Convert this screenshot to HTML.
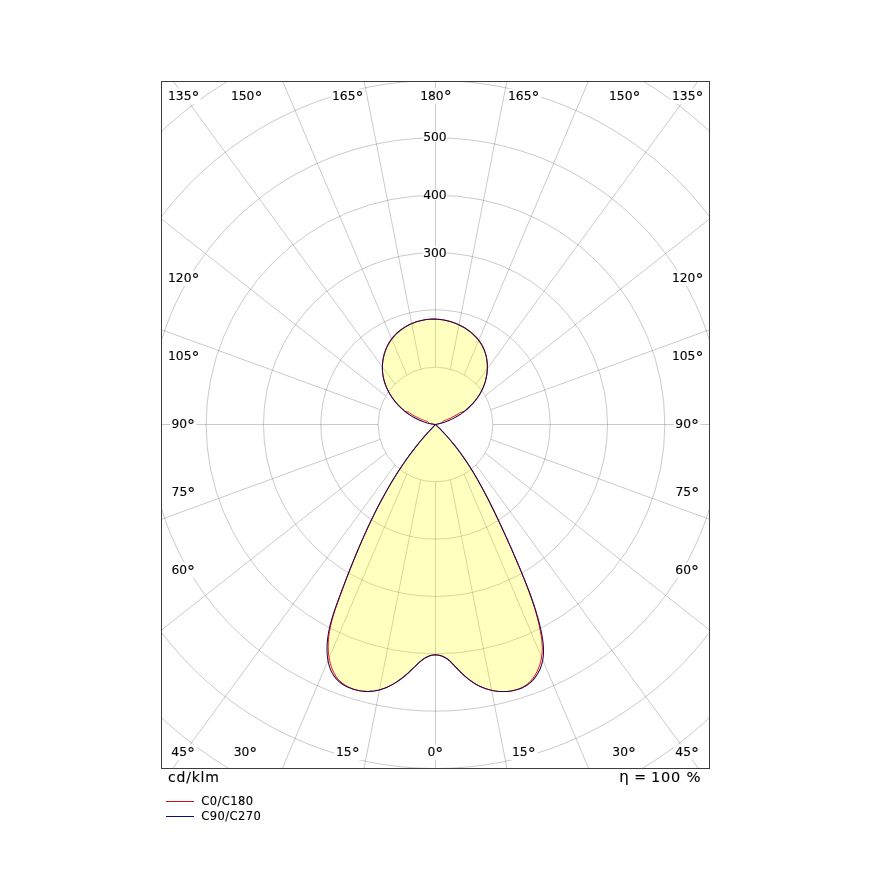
<!DOCTYPE html>
<html><head><meta charset="utf-8"><title>Polar diagram</title>
<style>html,body{margin:0;padding:0;background:#fff;overflow:hidden}svg{display:block}</style>
</head><body>
<svg width="870" height="896" viewBox="0 0 870 896" style="will-change:transform">
<defs><clipPath id="fr"><rect x="162" y="82" width="547" height="686"/></clipPath></defs>
<rect width="870" height="896" fill="#fff"/>
<g clip-path="url(#fr)">
<g fill="none" stroke="#6e6e6e" stroke-opacity="0.37" stroke-width="1"><circle cx="435.5" cy="424.5" r="57.33"/><circle cx="435.5" cy="424.5" r="114.67"/><circle cx="435.5" cy="424.5" r="172"/><circle cx="435.5" cy="424.5" r="229.33"/><circle cx="435.5" cy="424.5" r="286.67"/><circle cx="435.5" cy="424.5" r="344"/><circle cx="435.5" cy="424.5" r="401.33"/><line x1="435.5" y1="481.83" x2="435.5" y2="1381.83"/><line x1="450.34" y1="479.88" x2="623.7" y2="1363.03"/><line x1="464.17" y1="474.15" x2="814.77" y2="1303.06"/><line x1="476.04" y1="465.04" x2="1007.92" y2="1191.06"/><line x1="485.15" y1="453.17" x2="1192.02" y2="1010.24"/><line x1="490.88" y1="439.34" x2="1336.12" y2="748.49"/><line x1="492.83" y1="424.5" x2="1392.83" y2="424.5"/><line x1="490.88" y1="409.66" x2="1336.12" y2="100.51"/><line x1="485.15" y1="395.83" x2="1192.02" y2="-161.24"/><line x1="476.04" y1="383.96" x2="1007.92" y2="-342.06"/><line x1="464.17" y1="374.85" x2="814.77" y2="-454.06"/><line x1="450.34" y1="369.12" x2="623.7" y2="-514.03"/><line x1="435.5" y1="367.17" x2="435.5" y2="-532.83"/><line x1="420.66" y1="369.12" x2="247.3" y2="-514.03"/><line x1="406.83" y1="374.85" x2="56.23" y2="-454.06"/><line x1="394.96" y1="383.96" x2="-136.92" y2="-342.06"/><line x1="385.85" y1="395.83" x2="-321.02" y2="-161.24"/><line x1="380.12" y1="409.66" x2="-465.12" y2="100.51"/><line x1="378.17" y1="424.5" x2="-521.83" y2="424.5"/><line x1="380.12" y1="439.34" x2="-465.12" y2="748.49"/><line x1="385.85" y1="453.17" x2="-321.02" y2="1010.24"/><line x1="394.96" y1="465.04" x2="-136.92" y2="1191.06"/><line x1="406.83" y1="474.15" x2="56.23" y2="1303.06"/><line x1="420.66" y1="479.88" x2="247.3" y2="1363.03"/></g>
<path d="M435.5 424.5L434.1 425.93L432.72 427.37L431.35 428.82L429.98 430.28L428.64 431.74L427.3 433.22L425.97 434.71L424.66 436.21L423.36 437.71L422.06 439.22L420.78 440.75L419.52 442.28L418.26 443.82L417.01 445.37L415.77 446.92L414.55 448.49L413.33 450.06L412.13 451.64L410.93 453.23L409.75 454.83L408.57 456.44L407.41 458.05L406.26 459.67L405.11 461.29L403.98 462.93L402.85 464.57L401.74 466.21L400.63 467.87L399.54 469.53L398.45 471.2L397.37 472.87L396.3 474.55L395.24 476.24L394.19 477.93L393.15 479.63L392.12 481.33L391.09 483.04L390.07 484.76L389.07 486.48L388.07 488.2L387.07 489.94L386.09 491.67L385.11 493.41L384.15 495.16L383.19 496.91L382.23 498.67L381.29 500.42L380.35 502.19L379.42 503.96L378.5 505.73L377.58 507.51L376.67 509.29L375.77 511.07L374.87 512.86L373.98 514.65L373.1 516.44L372.23 518.24L371.36 520.04L370.5 521.85L369.64 523.65L368.79 525.46L367.94 527.28L367.11 529.09L366.27 530.91L365.45 532.73L364.63 534.55L363.81 536.37L363 538.2L362.2 540.03L361.4 541.86L360.61 543.69L359.82 545.53L359.03 547.36L358.26 549.2L357.48 551.04L356.71 552.88L355.95 554.73L355.19 556.57L354.44 558.42L353.69 560.27L352.94 562.12L352.2 563.97L351.46 565.82L350.73 567.67L350 569.53L349.28 571.38L348.56 573.24L347.84 575.09L347.13 576.95L346.42 578.81L345.71 580.67L345.01 582.53L344.31 584.39L343.61 586.26L342.92 588.12L342.23 589.98L341.54 591.84L340.86 593.71L340.18 595.57L339.5 597.43L338.82 599.3L338.15 601.16L337.48 603.03L336.82 604.89L336.17 606.76L335.53 608.64L334.9 610.51L334.29 612.4L333.7 614.29L333.12 616.18L332.57 618.08L332.04 619.99L331.53 621.91L331.05 623.84L330.61 625.77L330.19 627.72L329.81 629.68L329.46 631.65L329.15 633.63L328.88 635.63L328.65 637.64L328.46 639.66L328.32 641.69L328.23 643.72L328.19 645.75L328.2 647.78L328.26 649.79L328.38 651.79L328.56 653.78L328.79 655.74L329.08 657.67L329.42 659.58L329.83 661.45L330.29 663.28L330.81 665.08L331.39 666.84L332.03 668.56L332.73 670.24L333.49 671.88L334.32 673.48L335.23 675.03L336.21 676.55L337.28 678.02L338.45 679.44L339.72 680.81L341.11 682.12L342.6 683.37L344.2 684.54L345.9 685.64L347.68 686.64L349.53 687.55L351.44 688.37L353.4 689.09L355.4 689.71L357.42 690.24L359.46 690.67L361.5 691L363.53 691.24L365.54 691.38L367.54 691.43L369.51 691.38L371.47 691.26L373.4 691.05L375.32 690.75L377.21 690.38L379.09 689.94L380.95 689.42L382.79 688.83L384.61 688.17L386.41 687.44L388.19 686.65L389.95 685.8L391.7 684.89L393.42 683.92L395.13 682.9L396.82 681.82L398.48 680.7L400.13 679.52L401.77 678.3L403.38 677.04L404.97 675.74L406.55 674.4L408.11 673.03L409.65 671.62L411.17 670.18L412.67 668.72L414.17 667.25L415.66 665.8L417.15 664.36L418.65 662.98L420.16 661.64L421.69 660.39L423.24 659.22L424.83 658.16L426.44 657.22L428.1 656.41L429.8 655.76L431.55 655.28L433.35 654.98L435.22 654.89L437.15 655L439.11 655.32L441.08 655.84L443.01 656.54L444.87 657.42L446.63 658.47L448.26 659.66L449.78 660.98L451.21 662.39L452.61 663.84L454 665.31L455.39 666.77L456.79 668.23L458.2 669.68L459.62 671.12L461.06 672.53L462.51 673.93L463.99 675.29L465.48 676.63L467 677.92L468.55 679.18L470.12 680.39L471.73 681.55L473.37 682.66L475.05 683.71L476.76 684.7L478.51 685.62L480.3 686.49L482.11 687.29L483.95 688.02L485.82 688.69L487.71 689.29L489.63 689.83L491.56 690.29L493.51 690.69L495.48 691.01L497.45 691.26L499.44 691.44L501.44 691.54L503.44 691.56L505.44 691.51L507.45 691.38L509.45 691.17L511.44 690.87L513.42 690.48L515.38 690.01L517.3 689.43L519.19 688.76L521.02 687.98L522.8 687.1L524.51 686.12L526.14 685.03L527.69 683.84L529.15 682.55L530.52 681.17L531.8 679.7L533 678.17L534.12 676.58L535.16 674.94L536.13 673.26L537.03 671.54L537.86 669.8L538.61 668.04L539.3 666.26L539.91 664.46L540.44 662.65L540.91 660.83L541.3 658.98L541.62 657.11L541.88 655.23L542.06 653.33L542.18 651.41L542.24 649.47L542.24 647.53L542.18 645.57L542.06 643.6L541.9 641.63L541.69 639.65L541.44 637.66L541.15 635.68L540.82 633.7L540.47 631.72L540.09 629.74L539.69 627.77L539.27 625.81L538.83 623.85L538.37 621.9L537.89 619.96L537.4 618.02L536.89 616.09L536.36 614.17L535.81 612.25L535.25 610.34L534.68 608.43L534.09 606.53L533.48 604.63L532.86 602.74L532.24 600.86L531.59 598.97L530.94 597.1L530.28 595.22L529.6 593.35L528.92 591.49L528.22 589.62L527.52 587.76L526.81 585.91L526.09 584.05L525.37 582.2L524.64 580.35L523.9 578.51L523.16 576.66L522.41 574.82L521.66 572.98L520.91 571.13L520.15 569.3L519.38 567.46L518.62 565.62L517.85 563.79L517.07 561.95L516.29 560.12L515.51 558.29L514.73 556.46L513.94 554.63L513.15 552.8L512.35 550.97L511.55 549.15L510.75 547.32L509.94 545.5L509.13 543.67L508.32 541.85L507.5 540.03L506.68 538.21L505.86 536.4L505.03 534.58L504.2 532.76L503.36 530.95L502.53 529.14L501.69 527.32L500.85 525.51L500 523.7L499.15 521.89L498.3 520.08L497.44 518.27L496.58 516.47L495.72 514.66L494.85 512.86L493.98 511.06L493.11 509.26L492.23 507.46L491.35 505.66L490.46 503.87L489.56 502.08L488.66 500.3L487.76 498.51L486.84 496.74L485.93 494.96L485 493.19L484.07 491.42L483.13 489.66L482.18 487.9L481.22 486.15L480.26 484.4L479.29 482.66L478.31 480.92L477.32 479.19L476.32 477.47L475.31 475.75L474.3 474.04L473.27 472.33L472.23 470.63L471.18 468.94L470.13 467.26L469.06 465.58L467.97 463.92L466.88 462.26L465.78 460.6L464.66 458.96L463.53 457.33L462.39 455.7L461.23 454.09L460.07 452.48L458.88 450.88L457.69 449.29L456.48 447.72L455.26 446.15L454.02 444.59L452.77 443.05L451.5 441.51L450.21 439.99L448.92 438.48L447.6 436.98L446.27 435.49L444.92 434.01L443.56 432.55L442.18 431.1L440.78 429.66L439.36 428.24L437.93 426.82L436.48 425.42ZM435.5 424.5L436.53 424.31L437.57 424.09L438.6 423.86L439.63 423.6L440.66 423.33L441.64 422.87L442.5 422.05L443.35 421.22L444.27 420.64L445.26 420.29L446.26 419.91L447.24 419.52L448.23 419.11L449.21 418.69L450.18 418.25L451.15 417.79L452.12 417.31L453.08 416.82L454.03 416.32L454.97 415.79L455.91 415.25L456.84 414.7L457.77 414.13L458.68 413.55L459.59 412.95L460.5 412.36L461.71 412.17L462.92 411.95L464.03 411.59L464.91 410.9L465.78 410.2L466.63 409.48L467.47 408.75L468.3 408.01L469.12 407.25L469.92 406.48L470.71 405.7L471.49 404.91L472.25 404.1L473 403.28L473.73 402.44L474.45 401.6L475.15 400.74L475.84 399.87L476.51 398.99L477.16 398.1L477.8 397.19L478.42 396.28L479.02 395.35L479.6 394.41L480.16 393.47L480.7 392.51L481.23 391.54L481.73 390.56L482.22 389.57L482.68 388.58L483.13 387.57L483.55 386.55L483.95 385.53L484.33 384.5L484.68 383.46L485.02 382.41L485.33 381.35L485.62 380.29L485.89 379.23L486.14 378.16L486.37 377.09L486.57 376.01L486.75 374.93L486.91 373.85L487.04 372.77L487.15 371.68L487.25 370.6L487.31 369.51L487.36 368.43L487.38 367.34L487.38 366.26L487.36 365.18L487.31 364.1L487.24 363.03L487.15 361.96L487.03 360.89L486.89 359.83L486.73 358.78L486.55 357.73L486.34 356.68L486.1 355.65L485.85 354.62L485.57 353.6L485.26 352.58L484.93 351.58L484.58 350.58L484.2 349.6L483.8 348.62L483.37 347.66L482.91 346.71L482.44 345.77L481.93 344.84L481.41 343.92L480.86 343.02L480.28 342.13L479.68 341.25L479.06 340.39L478.42 339.54L477.75 338.71L477.06 337.89L476.35 337.09L475.62 336.31L474.87 335.54L474.1 334.79L473.31 334.05L472.5 333.34L471.68 332.63L470.84 331.95L469.98 331.29L469.1 330.64L468.21 330.01L467.31 329.39L466.39 328.8L465.46 328.22L464.52 327.65L463.57 327.11L462.6 326.58L461.63 326.06L460.64 325.57L459.65 325.09L458.64 324.62L457.63 324.18L456.61 323.75L455.58 323.34L454.54 322.94L453.49 322.57L452.44 322.21L451.38 321.87L450.31 321.55L449.24 321.24L448.17 320.96L447.08 320.69L446 320.45L444.9 320.22L443.81 320.02L442.71 319.83L441.61 319.66L440.5 319.52L439.4 319.39L438.29 319.29L437.18 319.21L436.06 319.15L434.95 319.11L433.84 319.09L432.73 319.09L431.62 319.12L430.51 319.17L429.4 319.24L428.29 319.33L427.19 319.45L426.09 319.59L424.99 319.75L423.9 319.93L422.81 320.14L421.72 320.37L420.64 320.62L419.57 320.88L418.5 321.17L417.44 321.48L416.38 321.81L415.33 322.16L414.29 322.54L413.26 322.92L412.23 323.33L411.22 323.76L410.21 324.21L409.21 324.68L408.22 325.16L407.25 325.66L406.28 326.19L405.32 326.73L404.38 327.29L403.45 327.87L402.53 328.47L401.63 329.09L400.74 329.72L399.87 330.38L399.01 331.06L398.17 331.75L397.35 332.46L396.54 333.2L395.76 333.95L394.99 334.72L394.25 335.51L393.52 336.32L392.82 337.14L392.14 337.99L391.48 338.85L390.85 339.72L390.24 340.62L389.65 341.52L389.09 342.45L388.55 343.38L388.03 344.33L387.54 345.29L387.07 346.27L386.62 347.25L386.19 348.24L385.79 349.25L385.41 350.26L385.06 351.28L384.72 352.31L384.41 353.34L384.12 354.38L383.85 355.43L383.6 356.48L383.38 357.53L383.17 358.6L382.99 359.66L382.84 360.73L382.7 361.8L382.59 362.87L382.5 363.95L382.43 365.03L382.39 366.1L382.37 367.18L382.37 368.26L382.4 369.34L382.45 370.41L382.52 371.49L382.62 372.56L382.74 373.63L382.88 374.69L383.05 375.75L383.25 376.81L383.46 377.86L383.7 378.91L383.96 379.95L384.24 380.99L384.55 382.03L384.88 383.05L385.23 384.08L385.6 385.09L385.99 386.1L386.4 387.1L386.83 388.1L387.28 389.09L387.75 390.07L388.24 391.04L388.75 392.01L389.27 392.96L389.82 393.91L390.38 394.85L390.97 395.78L391.56 396.7L392.18 397.61L392.81 398.51L393.46 399.4L394.13 400.28L394.81 401.15L395.5 402.01L396.22 402.86L396.94 403.69L397.68 404.52L398.44 405.33L399.21 406.13L399.99 406.91L400.79 407.69L401.6 408.44L402.42 409.19L403.26 409.92L404.1 410.64L404.96 411.34L406.09 411.71L407.28 411.95L408.48 412.17L409.37 412.78L410.26 413.39L411.17 413.99L412.08 414.57L413 415.14L413.93 415.69L414.86 416.22L415.81 416.73L416.76 417.23L417.72 417.71L418.69 418.17L419.67 418.62L420.65 419.04L421.63 419.45L422.63 419.84L423.63 420.2L424.63 420.55L425.64 420.88L426.65 421.19L427.59 421.78L428.48 422.58L429.4 423.36L430.43 423.69L431.49 423.9L432.56 424.09L433.63 424.26L434.7 424.41Z" fill="#ffff00" fill-opacity="0.25" stroke="none"/>
<path d="M435.5 424.5L434.1 425.93L432.72 427.37L431.35 428.82L429.98 430.28L428.64 431.74L427.3 433.22L425.97 434.71L424.66 436.21L423.36 437.71L422.06 439.22L420.78 440.75L419.52 442.28L418.26 443.82L417.01 445.37L415.77 446.92L414.55 448.49L413.33 450.06L412.13 451.64L410.93 453.23L409.75 454.83L408.57 456.44L407.41 458.05L406.26 459.67L405.11 461.29L403.98 462.93L402.85 464.57L401.74 466.21L400.63 467.87L399.54 469.53L398.45 471.2L397.37 472.87L396.3 474.55L395.24 476.24L394.19 477.93L393.15 479.63L392.12 481.33L391.09 483.04L390.07 484.76L389.07 486.48L388.07 488.2L387.07 489.94L386.09 491.67L385.11 493.41L384.15 495.16L383.19 496.91L382.23 498.67L381.29 500.42L380.35 502.19L379.42 503.96L378.5 505.73L377.58 507.51L376.67 509.29L375.77 511.07L374.87 512.86L373.98 514.65L373.1 516.44L372.23 518.24L371.36 520.04L370.5 521.85L369.64 523.65L368.79 525.46L367.94 527.28L367.11 529.09L366.27 530.91L365.45 532.73L364.63 534.55L363.81 536.37L363 538.2L362.2 540.03L361.4 541.86L360.61 543.69L359.82 545.53L359.03 547.36L358.26 549.2L357.48 551.04L356.71 552.88L355.95 554.73L355.19 556.57L354.44 558.42L353.69 560.27L352.94 562.12L352.2 563.97L351.46 565.82L350.73 567.67L350 569.53L349.28 571.38L348.56 573.24L347.84 575.09L347.13 576.95L346.42 578.81L345.71 580.67L345.01 582.53L344.31 584.39L343.61 586.26L342.92 588.12L342.23 589.98L341.54 591.84L340.86 593.71L340.18 595.57L339.5 597.43L338.82 599.3L338.15 601.16L337.48 603.03L336.82 604.89L336.17 606.76L335.53 608.64L334.9 610.51L334.29 612.4L333.7 614.29L333.12 616.18L332.57 618.08L332.04 619.99L331.53 621.91L331.05 623.84L330.61 625.77L330.19 627.72L329.81 629.68L329.46 631.65L329.15 633.63L328.88 635.63L328.65 637.64L328.46 639.66L328.32 641.69L328.23 643.72L328.19 645.75L328.2 647.78L328.26 649.79L328.38 651.79L328.56 653.78L328.79 655.74L329.08 657.67L329.42 659.58L329.83 661.45L330.29 663.28L330.81 665.08L331.39 666.84L332.03 668.56L332.73 670.24L333.49 671.88L334.32 673.48L335.23 675.03L336.21 676.55L337.28 678.02L338.45 679.44L339.72 680.81L341.11 682.12L342.6 683.37L344.2 684.54L345.9 685.64L347.68 686.64L349.53 687.55L351.44 688.37L353.4 689.09L355.4 689.71L357.42 690.24L359.46 690.67L361.5 691L363.53 691.24L365.54 691.38L367.54 691.43L369.51 691.38L371.47 691.26L373.4 691.05L375.32 690.75L377.21 690.38L379.09 689.94L380.95 689.42L382.79 688.83L384.61 688.17L386.41 687.44L388.19 686.65L389.95 685.8L391.7 684.89L393.42 683.92L395.13 682.9L396.82 681.82L398.48 680.7L400.13 679.52L401.77 678.3L403.38 677.04L404.97 675.74L406.55 674.4L408.11 673.03L409.65 671.62L411.17 670.18L412.67 668.72L414.17 667.25L415.66 665.8L417.15 664.36L418.65 662.98L420.16 661.64L421.69 660.39L423.24 659.22L424.83 658.16L426.44 657.22L428.1 656.41L429.8 655.76L431.55 655.28L433.35 654.98L435.22 654.89L437.15 655L439.11 655.32L441.08 655.84L443.01 656.54L444.87 657.42L446.63 658.47L448.26 659.66L449.78 660.98L451.21 662.39L452.61 663.84L454 665.31L455.39 666.77L456.79 668.23L458.2 669.68L459.62 671.12L461.06 672.53L462.51 673.93L463.99 675.29L465.48 676.63L467 677.92L468.55 679.18L470.12 680.39L471.73 681.55L473.37 682.66L475.05 683.71L476.76 684.7L478.51 685.62L480.3 686.49L482.11 687.29L483.95 688.02L485.82 688.69L487.71 689.29L489.63 689.83L491.56 690.29L493.51 690.69L495.48 691.01L497.45 691.26L499.44 691.44L501.44 691.54L503.44 691.56L505.44 691.51L507.45 691.38L509.45 691.17L511.44 690.87L513.42 690.48L515.38 690.01L517.3 689.43L519.19 688.76L521.02 687.98L522.8 687.1L524.51 686.12L526.14 685.03L527.69 683.84L529.15 682.55L530.52 681.17L531.8 679.7L533 678.17L534.12 676.58L535.16 674.94L536.13 673.26L537.03 671.54L537.86 669.8L538.61 668.04L539.3 666.26L539.91 664.46L540.44 662.65L540.91 660.83L541.3 658.98L541.62 657.11L541.88 655.23L542.06 653.33L542.18 651.41L542.24 649.47L542.24 647.53L542.18 645.57L542.06 643.6L541.9 641.63L541.69 639.65L541.44 637.66L541.15 635.68L540.82 633.7L540.47 631.72L540.09 629.74L539.69 627.77L539.27 625.81L538.83 623.85L538.37 621.9L537.89 619.96L537.4 618.02L536.89 616.09L536.36 614.17L535.81 612.25L535.25 610.34L534.68 608.43L534.09 606.53L533.48 604.63L532.86 602.74L532.24 600.86L531.59 598.97L530.94 597.1L530.28 595.22L529.6 593.35L528.92 591.49L528.22 589.62L527.52 587.76L526.81 585.91L526.09 584.05L525.37 582.2L524.64 580.35L523.9 578.51L523.16 576.66L522.41 574.82L521.66 572.98L520.91 571.13L520.15 569.3L519.38 567.46L518.62 565.62L517.85 563.79L517.07 561.95L516.29 560.12L515.51 558.29L514.73 556.46L513.94 554.63L513.15 552.8L512.35 550.97L511.55 549.15L510.75 547.32L509.94 545.5L509.13 543.67L508.32 541.85L507.5 540.03L506.68 538.21L505.86 536.4L505.03 534.58L504.2 532.76L503.36 530.95L502.53 529.14L501.69 527.32L500.85 525.51L500 523.7L499.15 521.89L498.3 520.08L497.44 518.27L496.58 516.47L495.72 514.66L494.85 512.86L493.98 511.06L493.11 509.26L492.23 507.46L491.35 505.66L490.46 503.87L489.56 502.08L488.66 500.3L487.76 498.51L486.84 496.74L485.93 494.96L485 493.19L484.07 491.42L483.13 489.66L482.18 487.9L481.22 486.15L480.26 484.4L479.29 482.66L478.31 480.92L477.32 479.19L476.32 477.47L475.31 475.75L474.3 474.04L473.27 472.33L472.23 470.63L471.18 468.94L470.13 467.26L469.06 465.58L467.97 463.92L466.88 462.26L465.78 460.6L464.66 458.96L463.53 457.33L462.39 455.7L461.23 454.09L460.07 452.48L458.88 450.88L457.69 449.29L456.48 447.72L455.26 446.15L454.02 444.59L452.77 443.05L451.5 441.51L450.21 439.99L448.92 438.48L447.6 436.98L446.27 435.49L444.92 434.01L443.56 432.55L442.18 431.1L440.78 429.66L439.36 428.24L437.93 426.82L436.48 425.42ZM435.5 424.5L436.53 424.31L437.57 424.09L438.6 423.86L439.63 423.6L440.66 423.33L441.64 422.87L442.5 422.05L443.35 421.22L444.27 420.64L445.26 420.29L446.26 419.91L447.24 419.52L448.23 419.11L449.21 418.69L450.18 418.25L451.15 417.79L452.12 417.31L453.08 416.82L454.03 416.32L454.97 415.79L455.91 415.25L456.84 414.7L457.77 414.13L458.68 413.55L459.59 412.95L460.5 412.36L461.71 412.17L462.92 411.95L464.03 411.59L464.91 410.9L465.78 410.2L466.63 409.48L467.47 408.75L468.3 408.01L469.12 407.25L469.92 406.48L470.71 405.7L471.49 404.91L472.25 404.1L473 403.28L473.73 402.44L474.45 401.6L475.15 400.74L475.84 399.87L476.51 398.99L477.16 398.1L477.8 397.19L478.42 396.28L479.02 395.35L479.6 394.41L480.16 393.47L480.7 392.51L481.23 391.54L481.73 390.56L482.22 389.57L482.68 388.58L483.13 387.57L483.55 386.55L483.95 385.53L484.33 384.5L484.68 383.46L485.02 382.41L485.33 381.35L485.62 380.29L485.89 379.23L486.14 378.16L486.37 377.09L486.57 376.01L486.75 374.93L486.91 373.85L487.04 372.77L487.15 371.68L487.25 370.6L487.31 369.51L487.36 368.43L487.38 367.34L487.38 366.26L487.36 365.18L487.31 364.1L487.24 363.03L487.15 361.96L487.03 360.89L486.89 359.83L486.73 358.78L486.55 357.73L486.34 356.68L486.1 355.65L485.85 354.62L485.57 353.6L485.26 352.58L484.93 351.58L484.58 350.58L484.2 349.6L483.8 348.62L483.37 347.66L482.91 346.71L482.44 345.77L481.93 344.84L481.41 343.92L480.86 343.02L480.28 342.13L479.68 341.25L479.06 340.39L478.42 339.54L477.75 338.71L477.06 337.89L476.35 337.09L475.62 336.31L474.87 335.54L474.1 334.79L473.31 334.05L472.5 333.34L471.68 332.63L470.84 331.95L469.98 331.29L469.1 330.64L468.21 330.01L467.31 329.39L466.39 328.8L465.46 328.22L464.52 327.65L463.57 327.11L462.6 326.58L461.63 326.06L460.64 325.57L459.65 325.09L458.64 324.62L457.63 324.18L456.61 323.75L455.58 323.34L454.54 322.94L453.49 322.57L452.44 322.21L451.38 321.87L450.31 321.55L449.24 321.24L448.17 320.96L447.08 320.69L446 320.45L444.9 320.22L443.81 320.02L442.71 319.83L441.61 319.66L440.5 319.52L439.4 319.39L438.29 319.29L437.18 319.21L436.06 319.15L434.95 319.11L433.84 319.09L432.73 319.09L431.62 319.12L430.51 319.17L429.4 319.24L428.29 319.33L427.19 319.45L426.09 319.59L424.99 319.75L423.9 319.93L422.81 320.14L421.72 320.37L420.64 320.62L419.57 320.88L418.5 321.17L417.44 321.48L416.38 321.81L415.33 322.16L414.29 322.54L413.26 322.92L412.23 323.33L411.22 323.76L410.21 324.21L409.21 324.68L408.22 325.16L407.25 325.66L406.28 326.19L405.32 326.73L404.38 327.29L403.45 327.87L402.53 328.47L401.63 329.09L400.74 329.72L399.87 330.38L399.01 331.06L398.17 331.75L397.35 332.46L396.54 333.2L395.76 333.95L394.99 334.72L394.25 335.51L393.52 336.32L392.82 337.14L392.14 337.99L391.48 338.85L390.85 339.72L390.24 340.62L389.65 341.52L389.09 342.45L388.55 343.38L388.03 344.33L387.54 345.29L387.07 346.27L386.62 347.25L386.19 348.24L385.79 349.25L385.41 350.26L385.06 351.28L384.72 352.31L384.41 353.34L384.12 354.38L383.85 355.43L383.6 356.48L383.38 357.53L383.17 358.6L382.99 359.66L382.84 360.73L382.7 361.8L382.59 362.87L382.5 363.95L382.43 365.03L382.39 366.1L382.37 367.18L382.37 368.26L382.4 369.34L382.45 370.41L382.52 371.49L382.62 372.56L382.74 373.63L382.88 374.69L383.05 375.75L383.25 376.81L383.46 377.86L383.7 378.91L383.96 379.95L384.24 380.99L384.55 382.03L384.88 383.05L385.23 384.08L385.6 385.09L385.99 386.1L386.4 387.1L386.83 388.1L387.28 389.09L387.75 390.07L388.24 391.04L388.75 392.01L389.27 392.96L389.82 393.91L390.38 394.85L390.97 395.78L391.56 396.7L392.18 397.61L392.81 398.51L393.46 399.4L394.13 400.28L394.81 401.15L395.5 402.01L396.22 402.86L396.94 403.69L397.68 404.52L398.44 405.33L399.21 406.13L399.99 406.91L400.79 407.69L401.6 408.44L402.42 409.19L403.26 409.92L404.1 410.64L404.96 411.34L406.09 411.71L407.28 411.95L408.48 412.17L409.37 412.78L410.26 413.39L411.17 413.99L412.08 414.57L413 415.14L413.93 415.69L414.86 416.22L415.81 416.73L416.76 417.23L417.72 417.71L418.69 418.17L419.67 418.62L420.65 419.04L421.63 419.45L422.63 419.84L423.63 420.2L424.63 420.55L425.64 420.88L426.65 421.19L427.59 421.78L428.48 422.58L429.4 423.36L430.43 423.69L431.49 423.9L432.56 424.09L433.63 424.26L434.7 424.41Z" fill="none" stroke="#ff0000" stroke-width="1" stroke-linejoin="round"/>
<path d="M435.5 424.5L434.1 425.93L432.72 427.37L431.35 428.82L429.98 430.28L428.64 431.74L427.3 433.22L425.97 434.71L424.66 436.21L423.36 437.71L422.06 439.22L420.78 440.75L419.52 442.28L418.26 443.82L417.01 445.37L415.77 446.92L414.55 448.49L413.33 450.06L412.13 451.64L410.93 453.23L409.75 454.83L408.57 456.44L407.41 458.05L406.26 459.67L405.11 461.29L403.98 462.93L402.85 464.57L401.74 466.21L400.63 467.87L399.54 469.53L398.45 471.2L397.37 472.87L396.3 474.55L395.24 476.24L394.19 477.93L393.15 479.63L392.12 481.33L391.09 483.04L390.07 484.76L389.07 486.48L388.07 488.2L387.07 489.94L386.09 491.67L385.11 493.41L384.15 495.16L383.19 496.91L382.23 498.66L381.29 500.42L380.35 502.19L379.42 503.96L378.5 505.73L377.58 507.51L376.67 509.29L375.77 511.07L374.87 512.86L373.98 514.65L373.1 516.44L372.23 518.24L371.36 520.04L370.49 521.85L369.64 523.65L368.79 525.46L367.94 527.27L367.1 529.09L366.27 530.91L365.44 532.73L364.62 534.55L363.8 536.37L362.99 538.2L362.19 540.03L361.39 541.86L360.59 543.69L359.8 545.52L359.01 547.36L358.23 549.19L357.46 551.03L356.69 552.87L355.92 554.71L355.16 556.56L354.4 558.4L353.64 560.25L352.89 562.1L352.15 563.95L351.4 565.79L350.67 567.65L349.93 569.5L349.2 571.35L348.47 573.2L347.75 575.06L347.02 576.91L346.31 578.77L345.59 580.63L344.88 582.48L344.17 584.34L343.46 586.2L342.76 588.06L342.06 589.92L341.36 591.77L340.66 593.63L339.97 595.49L339.27 597.35L338.58 599.21L337.89 601.07L337.21 602.93L336.53 604.79L335.87 606.66L335.21 608.53L334.56 610.4L333.93 612.28L333.32 614.16L332.72 616.05L332.14 617.95L331.58 619.86L331.04 621.78L330.53 623.7L330.05 625.64L329.59 627.59L329.17 629.55L328.77 631.52L328.41 633.51L328.09 635.51L327.8 637.53L327.56 639.56L327.35 641.6L327.19 643.65L327.08 645.71L327.02 647.76L327.01 649.81L327.06 651.84L327.17 653.87L327.33 655.88L327.57 657.87L327.87 659.84L328.23 661.78L328.68 663.69L329.19 665.57L329.78 667.4L330.46 669.2L331.22 670.94L332.06 672.64L332.99 674.28L334.01 675.87L335.13 677.39L336.34 678.85L337.65 680.24L339.07 681.56L340.59 682.8L342.2 683.96L343.9 685.04L345.68 686.05L347.52 686.97L349.42 687.81L351.37 688.56L353.36 689.23L355.37 689.81L357.41 690.31L359.45 690.72L361.49 691.03L363.53 691.26L365.54 691.39L367.54 691.43L369.51 691.39L371.47 691.26L373.4 691.05L375.32 690.76L377.21 690.39L379.09 689.94L380.95 689.42L382.79 688.83L384.61 688.17L386.41 687.44L388.19 686.65L389.95 685.8L391.7 684.89L393.42 683.92L395.13 682.9L396.82 681.82L398.48 680.7L400.13 679.52L401.77 678.3L403.38 677.04L404.97 675.74L406.55 674.4L408.11 673.03L409.65 671.62L411.17 670.18L412.67 668.72L414.17 667.25L415.66 665.8L417.15 664.36L418.65 662.98L420.16 661.64L421.69 660.39L423.24 659.22L424.83 658.16L426.44 657.22L428.1 656.41L429.8 655.76L431.55 655.28L433.35 654.98L435.22 654.89L437.15 655L439.11 655.32L441.08 655.84L443.01 656.54L444.87 657.42L446.63 658.47L448.26 659.66L449.78 660.98L451.21 662.39L452.61 663.84L454 665.31L455.39 666.77L456.79 668.23L458.2 669.68L459.62 671.12L461.06 672.53L462.51 673.93L463.99 675.29L465.48 676.63L467 677.92L468.55 679.18L470.12 680.39L471.73 681.55L473.37 682.66L475.05 683.71L476.76 684.7L478.51 685.62L480.3 686.49L482.11 687.29L483.95 688.02L485.82 688.69L487.71 689.29L489.63 689.83L491.56 690.29L493.51 690.69L495.48 691.01L497.45 691.26L499.44 691.44L501.44 691.54L503.44 691.57L505.44 691.53L507.45 691.4L509.45 691.2L511.45 690.92L513.44 690.55L515.4 690.1L517.34 689.56L519.25 688.94L521.12 688.22L522.94 687.4L524.72 686.49L526.43 685.49L528.07 684.37L529.65 683.16L531.15 681.85L532.57 680.44L533.91 678.95L535.17 677.38L536.35 675.75L537.44 674.06L538.44 672.31L539.35 670.52L540.17 668.69L540.9 666.84L541.52 664.96L542.06 663.07L542.5 661.16L542.86 659.24L543.14 657.3L543.34 655.35L543.46 653.39L543.52 651.43L543.51 649.45L543.45 647.47L543.32 645.48L543.15 643.49L542.92 641.5L542.65 639.51L542.35 637.52L542 635.53L541.63 633.54L541.23 631.56L540.8 629.58L540.36 627.62L539.9 625.66L539.42 623.7L538.93 621.76L538.42 619.82L537.89 617.89L537.35 615.96L536.79 614.04L536.22 612.13L535.63 610.22L535.03 608.32L534.42 606.42L533.79 604.53L533.16 602.64L532.51 600.76L531.85 598.88L531.18 597.01L530.5 595.14L529.81 593.27L529.11 591.41L528.41 589.55L527.69 587.7L526.97 585.84L526.24 583.99L525.51 582.15L524.77 580.3L524.02 578.46L523.27 576.61L522.52 574.77L521.76 572.93L521 571.1L520.23 569.26L519.46 567.42L518.69 565.59L517.91 563.76L517.13 561.93L516.35 560.09L515.56 558.26L514.77 556.44L513.98 554.61L513.18 552.78L512.38 550.96L511.58 549.13L510.78 547.31L509.97 545.49L509.15 543.66L508.34 541.84L507.52 540.03L506.7 538.21L505.87 536.39L505.04 534.57L504.21 532.76L503.37 530.94L502.54 529.13L501.7 527.32L500.85 525.51L500 523.7L499.15 521.89L498.3 520.08L497.44 518.27L496.59 516.47L495.72 514.66L494.86 512.86L493.99 511.06L493.11 509.26L492.23 507.46L491.35 505.66L490.46 503.87L489.56 502.08L488.66 500.3L487.76 498.51L486.84 496.74L485.93 494.96L485 493.19L484.07 491.42L483.13 489.66L482.18 487.9L481.22 486.15L480.26 484.4L479.29 482.66L478.31 480.92L477.32 479.19L476.32 477.47L475.31 475.75L474.3 474.04L473.27 472.33L472.23 470.63L471.18 468.94L470.13 467.26L469.06 465.58L467.97 463.92L466.88 462.26L465.78 460.6L464.66 458.96L463.53 457.33L462.39 455.7L461.23 454.09L460.07 452.48L458.88 450.88L457.69 449.29L456.48 447.72L455.26 446.15L454.02 444.59L452.77 443.05L451.5 441.51L450.21 439.99L448.92 438.48L447.6 436.98L446.27 435.49L444.92 434.01L443.56 432.55L442.18 431.1L440.78 429.66L439.36 428.24L437.93 426.82L436.48 425.42ZM435.5 424.5L436.53 424.31L437.57 424.09L438.6 423.86L439.63 423.6L440.66 423.33L441.69 423.04L442.72 422.73L443.74 422.4L444.76 422.06L445.78 421.69L446.8 421.31L447.81 420.91L448.81 420.5L449.82 420.06L450.81 419.61L451.81 419.14L452.79 418.66L453.77 418.15L454.74 417.63L455.71 417.1L456.67 416.55L457.62 415.98L458.56 415.4L459.5 414.8L460.43 414.19L461.34 413.56L462.25 412.92L463.15 412.26L464.03 411.59L464.91 410.9L465.78 410.2L466.63 409.48L467.47 408.75L468.3 408.01L469.12 407.25L469.92 406.48L470.71 405.7L471.49 404.91L472.25 404.1L473 403.28L473.73 402.44L474.45 401.6L475.15 400.74L475.84 399.87L476.51 398.99L477.16 398.1L477.8 397.19L478.42 396.28L479.02 395.35L479.6 394.41L480.16 393.47L480.7 392.51L481.23 391.54L481.73 390.56L482.22 389.57L482.68 388.58L483.13 387.57L483.55 386.55L483.95 385.53L484.33 384.5L484.68 383.46L485.02 382.41L485.33 381.35L485.62 380.29L485.89 379.23L486.14 378.16L486.36 377.09L486.56 376.01L486.74 374.93L486.9 373.85L487.03 372.76L487.15 371.68L487.23 370.6L487.3 369.51L487.34 368.43L487.36 367.34L487.35 366.26L487.33 365.18L487.27 364.11L487.2 363.03L487.1 361.96L486.98 360.9L486.83 359.84L486.66 358.79L486.46 357.74L486.24 356.71L485.99 355.67L485.73 354.65L485.43 353.64L485.11 352.63L484.77 351.64L484.4 350.65L484.01 349.68L483.59 348.72L483.14 347.77L482.67 346.83L482.18 345.91L481.67 344.99L481.13 344.09L480.57 343.2L479.99 342.33L479.38 341.47L478.76 340.62L478.11 339.78L477.45 338.96L476.76 338.15L476.06 337.36L475.33 336.58L474.59 335.82L473.83 335.07L473.06 334.33L472.26 333.61L471.45 332.9L470.62 332.21L469.78 331.54L468.92 330.88L468.05 330.23L467.16 329.61L466.26 329L465.35 328.4L464.42 327.82L463.48 327.26L462.52 326.72L461.56 326.19L460.58 325.68L459.6 325.19L458.6 324.71L457.59 324.25L456.58 323.81L455.55 323.39L454.52 322.99L453.48 322.61L452.43 322.24L451.37 321.9L450.31 321.57L449.24 321.26L448.16 320.97L447.08 320.71L445.99 320.46L444.9 320.23L443.81 320.02L442.71 319.83L441.61 319.67L440.5 319.52L439.4 319.4L438.29 319.29L437.18 319.21L436.06 319.15L434.95 319.11L433.84 319.09L432.73 319.1L431.62 319.12L430.51 319.17L429.4 319.24L428.29 319.34L427.19 319.46L426.09 319.6L424.99 319.76L423.9 319.95L422.81 320.16L421.73 320.39L420.65 320.64L419.57 320.91L418.51 321.21L417.45 321.52L416.4 321.86L415.35 322.22L414.32 322.6L413.29 323L412.27 323.42L411.26 323.86L410.26 324.32L409.27 324.8L408.3 325.3L407.33 325.82L406.38 326.36L405.44 326.91L404.51 327.49L403.59 328.08L402.69 328.69L401.8 329.32L400.93 329.97L400.07 330.64L399.23 331.32L398.41 332.02L397.6 332.74L396.81 333.48L396.03 334.23L395.28 335L394.54 335.78L393.82 336.58L393.12 337.4L392.45 338.23L391.79 339.08L391.15 339.94L390.53 340.82L389.94 341.71L389.37 342.62L388.82 343.54L388.29 344.47L387.78 345.42L387.3 346.38L386.83 347.35L386.39 348.33L385.98 349.32L385.58 350.32L385.21 351.33L384.86 352.35L384.53 353.38L384.23 354.41L383.95 355.45L383.69 356.5L383.45 357.55L383.24 358.61L383.05 359.67L382.88 360.74L382.74 361.81L382.62 362.88L382.53 363.95L382.46 365.03L382.41 366.11L382.38 367.18L382.38 368.26L382.41 369.34L382.45 370.41L382.53 371.49L382.62 372.56L382.74 373.63L382.89 374.69L383.06 375.75L383.25 376.81L383.46 377.86L383.7 378.91L383.96 379.95L384.25 380.99L384.55 382.03L384.88 383.05L385.23 384.08L385.6 385.09L385.99 386.1L386.4 387.1L386.83 388.1L387.28 389.09L387.75 390.07L388.24 391.04L388.75 392.01L389.27 392.96L389.82 393.91L390.38 394.85L390.97 395.78L391.56 396.7L392.18 397.61L392.81 398.51L393.46 399.4L394.13 400.28L394.81 401.15L395.5 402.01L396.22 402.86L396.94 403.69L397.68 404.52L398.44 405.33L399.21 406.13L399.99 406.91L400.79 407.69L401.6 408.44L402.42 409.19L403.26 409.92L404.1 410.64L404.96 411.34L405.83 412.03L406.72 412.71L407.61 413.37L408.51 414.01L409.43 414.64L410.35 415.25L411.28 415.84L412.22 416.42L413.18 416.99L414.14 417.53L415.1 418.06L416.08 418.57L417.07 419.06L418.06 419.53L419.06 419.99L420.06 420.42L421.08 420.84L422.09 421.24L423.12 421.62L424.15 421.98L425.19 422.31L426.23 422.63L427.27 422.93L428.32 423.2L429.38 423.46L430.43 423.69L431.49 423.9L432.56 424.09L433.63 424.26L434.7 424.41Z" fill="none" stroke="#1c0c58" stroke-width="1.05" stroke-linejoin="round"/>
<g fill="#fff"><rect x="167" y="88.5" width="33.5" height="15.5"/><rect x="230" y="88.8" width="33.3" height="15.4"/><rect x="330.6" y="88.8" width="34.4" height="15.4"/><rect x="419.25" y="88.2" width="33.35" height="15.5"/><rect x="506.8" y="88.8" width="33.9" height="15.4"/><rect x="608" y="88.8" width="33.5" height="15.4"/><rect x="670.9" y="88.5" width="33.7" height="15.2"/><rect x="166.9" y="270.8" width="33.7" height="15.1"/><rect x="166.9" y="348.5" width="33.7" height="15.2"/><rect x="169.9" y="416.7" width="26.7" height="15.3"/><rect x="170.2" y="484.3" width="26.4" height="15.6"/><rect x="169.9" y="562.6" width="26.7" height="15.4"/><rect x="670.9" y="270.6" width="33.6" height="15.3"/><rect x="670.9" y="348.7" width="33.6" height="15.3"/><rect x="673.9" y="416.7" width="26.6" height="15.3"/><rect x="674.3" y="484.3" width="26.1" height="15.6"/><rect x="674" y="562.6" width="26.4" height="15.4"/><rect x="169.5" y="744.5" width="27.3" height="15.6"/><rect x="232.2" y="744.5" width="26.6" height="15.6"/><rect x="334.5" y="744.5" width="26.7" height="15.6"/><rect x="426" y="744.5" width="18.8" height="15.6"/><rect x="510.2" y="744.5" width="27.3" height="15.6"/><rect x="610.8" y="744.5" width="26.7" height="15.6"/><rect x="673.5" y="744.5" width="27.3" height="15.6"/><rect x="423.2" y="131.1" width="23.45" height="10.6"/><rect x="423.2" y="189.4" width="23.45" height="10.4"/><rect x="423.2" y="246.8" width="23.45" height="10.05"/></g>
</g>
<rect x="161.5" y="81.5" width="548" height="687" fill="none" stroke="#3c3c3c" stroke-width="1"/>
<g font-family="'DejaVu Sans','Liberation Sans',sans-serif" font-size="12.3" fill="#000" stroke="#000" stroke-width="0.12" text-anchor="middle"><text x="183.75" y="100.23">135<tspan font-size="16" dy="2.5">°</tspan></text><text x="246.65" y="100.48">150<tspan font-size="16" dy="2.5">°</tspan></text><text x="347.8" y="100.48">165<tspan font-size="16" dy="2.5">°</tspan></text><text x="435.93" y="99.93">180<tspan font-size="16" dy="2.5">°</tspan></text><text x="523.75" y="100.48">165<tspan font-size="16" dy="2.5">°</tspan></text><text x="624.75" y="100.48">150<tspan font-size="16" dy="2.5">°</tspan></text><text x="687.75" y="100.08">135<tspan font-size="16" dy="2.5">°</tspan></text><text x="183.75" y="282.33">120<tspan font-size="16" dy="2.5">°</tspan></text><text x="183.75" y="360.08">105<tspan font-size="16" dy="2.5">°</tspan></text><text x="183.25" y="428.33">90<tspan font-size="16" dy="2.5">°</tspan></text><text x="183.4" y="496.08">75<tspan font-size="16" dy="2.5">°</tspan></text><text x="183.25" y="574.28">60<tspan font-size="16" dy="2.5">°</tspan></text><text x="687.7" y="282.23">120<tspan font-size="16" dy="2.5">°</tspan></text><text x="687.7" y="360.33">105<tspan font-size="16" dy="2.5">°</tspan></text><text x="687.2" y="428.33">90<tspan font-size="16" dy="2.5">°</tspan></text><text x="687.35" y="496.08">75<tspan font-size="16" dy="2.5">°</tspan></text><text x="687.2" y="574.28">60<tspan font-size="16" dy="2.5">°</tspan></text><text x="183.15" y="756.28">45<tspan font-size="16" dy="2.5">°</tspan></text><text x="245.5" y="756.28">30<tspan font-size="16" dy="2.5">°</tspan></text><text x="347.85" y="756.28">15<tspan font-size="16" dy="2.5">°</tspan></text><text x="435.4" y="756.28">0<tspan font-size="16" dy="2.5">°</tspan></text><text x="523.85" y="756.28">15<tspan font-size="16" dy="2.5">°</tspan></text><text x="624.15" y="756.28">30<tspan font-size="16" dy="2.5">°</tspan></text><text x="687.15" y="756.28">45<tspan font-size="16" dy="2.5">°</tspan></text><text x="434.93" y="141.18">500</text><text x="434.93" y="199.38">400</text><text x="434.93" y="256.61">300</text></g>
<g font-family="'DejaVu Sans','Liberation Sans',sans-serif" fill="#000" stroke="#000" stroke-width="0.12">
<text x="168" y="781.7" font-size="14" letter-spacing="0.8">cd/klm</text>
<text y="781.7" font-size="14"><tspan x="619.3" font-size="15">η </tspan><tspan x="634.3">= </tspan><tspan x="651" font-size="14.5" letter-spacing="0.8">100 </tspan><tspan x="686.4" font-size="14.8">%</tspan></text>
<text x="201.2" y="804.9" font-size="11.5" letter-spacing="0.45">C0/C180</text>
<text x="201.2" y="820" font-size="11.5" letter-spacing="0.45">C90/C270</text>
</g>
<line x1="166" y1="801.5" x2="194" y2="801.5" stroke="#d41414" stroke-width="1"/>
<line x1="166" y1="816.5" x2="194" y2="816.5" stroke="#0c0c78" stroke-width="1"/>
</svg>
</body></html>
